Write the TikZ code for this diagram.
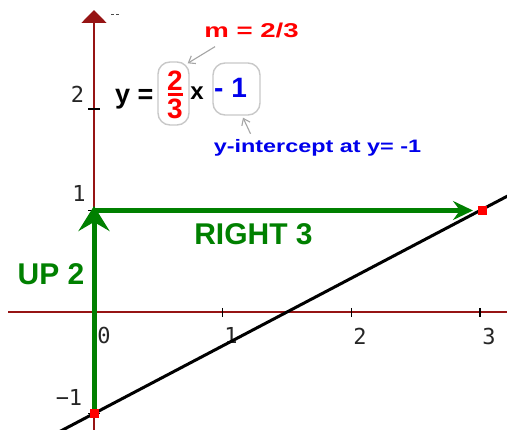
\documentclass[tikz,border=0pt]{standalone}
\usepackage{fontspec}
\setmainfont{Liberation Sans}
\newfontfamily\monof{DejaVu Sans Mono}
\usetikzlibrary{arrows.meta,calc}
\definecolor{axred}{RGB}{150,20,20}
\definecolor{ggreen}{RGB}{0,128,0}
\definecolor{bblue}{RGB}{0,0,235}
\definecolor{rred}{RGB}{255,0,0}
\definecolor{boxgray}{RGB}{200,200,200}
\definecolor{argray}{RGB}{165,165,165}
\begin{document}
\begin{tikzpicture}[x=1pt,y=-1pt,
  axisline/.style={draw=axred, line width=1.8pt},
  tickmark/.style={draw=black, line width=1.3pt},
  ticklab/.style={font=\monof\fontsize{22}{22}\selectfont, text=black!85, inner sep=0pt},
  graphline/.style={draw=black, line width=3pt},
  greenlab/.style={font=\bfseries\fontsize{30}{30}\selectfont, text=ggreen, inner sep=0pt},
  ptmark/.style={fill=rred, minimum size=9pt, inner sep=0pt},
  movearrow/.style={draw=ggreen, line width=5pt},
  pointer/.style={draw=argray, line width=1.1pt, -{Straight Barb[length=6pt,width=9pt]}},
  pill/.style={draw=boxgray, line width=1.4pt, rounded corners=12pt, inner sep=0pt},
  eqblack/.style={font=\bfseries\fontsize{27}{27}\selectfont, text=black, inner sep=0pt},
  eqred/.style={font=\bfseries\fontsize{28}{28}\selectfont, text=rred, inner sep=0pt},
  eqblue/.style={font=\bfseries\fontsize{28}{28}\selectfont, text=bblue, inner sep=0pt}
]
\useasboundingbox (0,0) rectangle (507,430);
\begin{scope}
\clip (0,0) rectangle (507,430);
% axes
\coordinate (xl) at (8,312);
\coordinate (xr) at (507,312);
\coordinate (yb) at (94,432);
\coordinate (yt) at (94,10);
\draw[axisline] (xl) -- (xr);
\draw[axisline, -{Triangle[length=13pt,width=25pt]}] (yb) -- (yt);
% tiny marks near top of axis
\draw[draw=black!70, line width=1pt] (111,15) -- (114,15) (116,15) -- (119,15);
% ticks
\foreach \px in {222.7,351.4,480.1} \draw[tickmark] (\px,308) -- (\px,317);
\foreach \py in {109,210.5,413.5} \draw[tickmark] (88,\py) -- (100,\py);
% tick labels
\node[ticklab] (lx0) at (104,335) {0};
\node[ticklab] (lx1) at (231,335) {1};
\node[ticklab] (lx2) at (360,336) {2};
\node[ticklab] (lx3) at (489,336) {3};
\node[ticklab] (ly2) at (77.5,94) {2};
\node[ticklab] (ly1) at (79,193) {1};
\node[ticklab] (lym1) at (69,397) {−1};
% graph line y = 2/3 x - 1
\coordinate (la) at (40,441.9);
\coordinate (lb) at (520,189.5);
\draw[graphline] (la) -- (lb);
% movement arrows
\coordinate (P0) at (94,413.5);
\coordinate (P1) at (94,210.5);
\coordinate (vtip) at (94,206);
\coordinate (htip) at (473,210.5);
\draw[movearrow, -{Stealth[length=25pt,width=31pt,inset=9pt]}] (P0) -- (vtip);
\draw[movearrow, -{Stealth[length=20pt,width=19pt,inset=7pt]}] (P1) -- (htip);
\node[ptmark] (R0) at (94,413.5) {};
\node[ptmark] (R3) at (482,210.5) {};
\node[greenlab] (up) at (51,274) {UP 2};
\node[greenlab] (right) at (253.5,234) {RIGHT 3};
% equation
\node[eqblack, anchor=base west] (yeq) at (115,104) {y =};
\node[pill, minimum width=31pt, minimum height=63pt] (fracbox) at (173.5,93.5) {};
\node[eqred] (num) at (175,80.5) {2};
\node[eqred] (den) at (175,108.5) {3};
\coordinate (barl) at (167.5,94.5);
\coordinate (barr) at (182.5,94.5);
\draw[draw=rred, line width=2.5pt] (barl) -- (barr);
\node[eqblack, font=\bfseries\fontsize{24}{24}\selectfont, anchor=base] (xvar) at (197,100) {x};
\node[pill, minimum width=47pt, minimum height=52pt] (intbox) at (236.5,89) {};
\node[eqblue, anchor=base west] (icpt) at (214,98) {- 1};
% annotations
\node[font=\bfseries\fontsize{20}{20}\selectfont, text=rred, inner sep=0pt, xscale=1.38] (mlabel) at (251.5,30) {m = 2/3};
\node[font=\bfseries\fontsize{18}{18}\selectfont, text=bblue, inner sep=0pt, xscale=1.3, anchor=base] (ilabel) at (317.5,153) {y-intercept at y= -1};
\draw[pointer] ($(mlabel.south west)+(11,9)$) -- ($(fracbox.north east)+(-2,2)$);
\draw[pointer] ($(ilabel.north west)+(37,-6)$) -- ($(intbox.south)+(6.5,2)$);
\end{scope}
\end{tikzpicture}
\end{document}
